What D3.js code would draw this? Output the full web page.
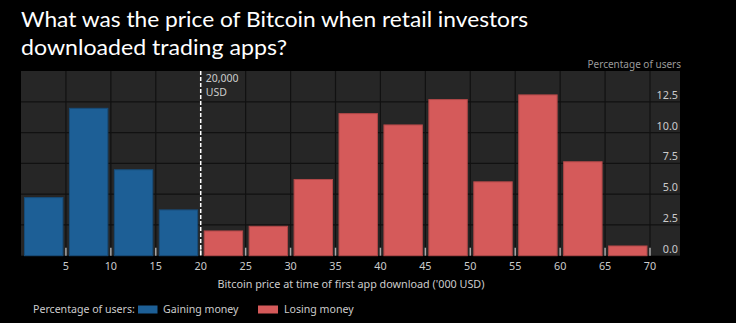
<!DOCTYPE html>
<html><head><meta charset="utf-8">
<script src="https://cdn.jsdelivr.net/npm/d3@7"></script>
<style>
html,body{margin:0;padding:0;background:#000;}
svg{display:block;}
</style></head>
<body>
<script>
const binStarts = [0,5,10,15,20,25,30,35,40,45,50,55,60,65];
const binWidth = 5;
const values = [4.72,11.97,6.98,3.72,2.01,2.39,6.19,11.54,10.62,12.68,6.0,13.06,7.63,0.79];
const groups = ["gain","gain","gain","gain","lose","lose","lose","lose","lose","lose","lose","lose","lose","lose"];
const xTicks = [5,10,15,20,25,30,35,40,45,50,55,60,65,70];
const yTicks = [0,2.5,5,7.5,10,12.5];
const seriesNames = {gain:"Gaining money", lose:"Losing money"};
const colors = {gain:"#1d5f96", lose:"#d55a5a"};
const strokes = {gain:"#174c78", lose:"#b04848"};
const threshold = 20;
const annotationLines = ["20,000","USD"];
const titleLines = ["What was the price of Bitcoin when retail investors","downloaded trading apps?"];

const W=736,H=323;
const svg=d3.select("body").append("svg").attr("width",W).attr("height",H);
svg.append("rect").attr("width",W).attr("height",H).attr("fill","#000");

const titleWidths=[507,266];
svg.selectAll("text.title").data(titleLines).join("text").attr("class","title")
 .attr("x",21).attr("y",(d,i)=>27+i*28)
 .attr("fill","#fff").attr("font-family","Lato, 'Open Sans', sans-serif").attr("font-size",22)
 .attr("textLength",(d,i)=>titleWidths[i]).attr("lengthAdjust","spacingAndGlyphs")
 .text(d=>d);

const L=21,R=680,T=71,B=255.7;
const x=d3.scaleLinear().domain([0,70]).range([L,650]);
const y=d3.scaleLinear().domain([0,15]).range([B,T]);

svg.append("rect").attr("x",L).attr("y",T).attr("width",R-L).attr("height",B-T).attr("fill","#262626");

const font="'Noto Sans', 'Open Sans', sans-serif";
const fs=10.8;
// grid
const gx=svg.append("g");
gx.selectAll("line.v").data(xTicks.filter(d=>d!==threshold)).join("line")
 .attr("x1",d=>x(d)).attr("x2",d=>x(d)).attr("y1",T).attr("y2",B)
 .attr("stroke","#111").attr("stroke-width",1.2);
gx.selectAll("line.h").data(yTicks.filter(d=>d>0)).join("line")
 .attr("x1",L).attr("x2",R).attr("y1",d=>y(d)).attr("y2",d=>y(d))
 .attr("stroke","#111").attr("stroke-width",1.2);

// bars
const data=binStarts.map((s,i)=>({s,v:values[i],g:groups[i]}));
svg.selectAll("rect.bar").data(data).join("rect").attr("class","bar")
 .attr("x",d=>x(d.s)+3.5).attr("width",d=>x(d.s+binWidth)-x(d.s)-6.5)
 .attr("y",d=>y(d.v)).attr("height",d=>B-y(d.v))
 .attr("fill",d=>colors[d.g]).attr("stroke",d=>strokes[d.g]).attr("stroke-width",1);

// bottom tick marks
svg.selectAll("line.tk").data(xTicks).join("line")
 .attr("x1",d=>x(d)).attr("x2",d=>x(d)).attr("y1",B-8).attr("y2",B)
 .attr("stroke","#aaa").attr("stroke-width",1.5);

// x axis labels
svg.selectAll("text.xl").data(xTicks).join("text")
 .attr("x",d=>x(d)).attr("y",270).attr("text-anchor","middle")
 .attr("fill","#ccc").attr("font-family",font).attr("font-size",fs).text(d=>d);
svg.append("text").attr("x",351).attr("y",288).attr("text-anchor","middle")
 .attr("fill","#ccc").attr("font-family",font).attr("font-size",fs)
 .text("Bitcoin price at time of first app download ('000 USD)");

// y labels
svg.selectAll("text.yl").data(yTicks).join("text")
 .attr("x",678).attr("y",d=>y(d)-3).attr("text-anchor","end")
 .attr("fill","#ccc").attr("font-family",font).attr("font-size",fs).text(d=>d.toFixed(1));
svg.append("text").attr("x",681).attr("y",68).attr("text-anchor","end")
 .attr("fill","#9a9a9a").attr("font-family",font).attr("font-size",10).text("Percentage of users");

// threshold line
svg.append("line").attr("x1",x(threshold)).attr("x2",x(threshold)).attr("y1",T).attr("y2",B)
 .attr("stroke","#fff").attr("stroke-width",1.5).attr("stroke-dasharray","4,2");
svg.selectAll("text.ann").data(annotationLines).join("text")
 .attr("x",x(threshold)+5).attr("y",(d,i)=>82+i*13.5)
 .attr("fill","#ccc").attr("font-family",font).attr("font-size",10.5).text(d=>d);

// legend
const lg=svg.append("g").attr("font-family",font).attr("font-size",10.6).attr("fill","#ccc");
lg.append("text").attr("x",33).attr("y",313).text("Percentage of users:");
lg.append("rect").attr("x",138).attr("y",305.5).attr("width",19.5).attr("height",8).attr("fill",colors.gain);
lg.append("text").attr("x",163).attr("y",313).text(seriesNames.gain);
lg.append("rect").attr("x",258).attr("y",305.5).attr("width",20).attr("height",8).attr("fill",colors.lose);
lg.append("text").attr("x",284).attr("y",313).text(seriesNames.lose);
</script>
</body></html>
